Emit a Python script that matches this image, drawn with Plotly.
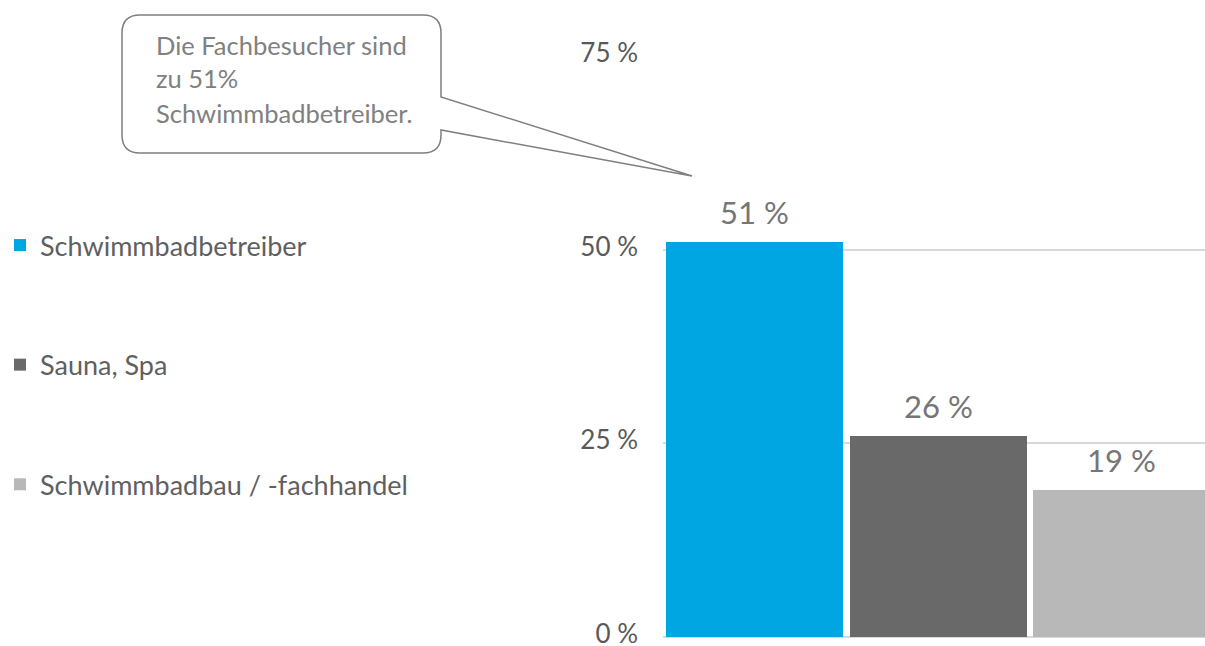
import plotly.graph_objects as go

categories = ["Schwimmbadbetreiber", "Sauna, Spa", "Schwimmbadbau / -fachhandel"]
values = [51, 26, 19]
colors = ["#00A6E2", "#696969", "#B8B8B8"]
tick_vals = [0, 25, 50, 75]
tick_text = ["0 %", "25 %", "50 %", "75 %"]
callout_lines = ["Die Fachbesucher sind", "zu 51%", "Schwimmbadbetreiber."]

W, H = 1205, 646
ML, MR, MT, MB = 663, 0, 56, 9
PW, PH = W - ML - MR, H - MT - MB


def px(x):
    return (x - ML) / PW


def py(y):
    return (H - MB - y) / PH


fig = go.Figure()
for i, (cat, val, col) in enumerate(zip(categories, values, colors)):
    fig.add_trace(go.Bar(
        x=[i], y=[val], name=cat, marker=dict(color=col, line=dict(width=0)),
        width=0.965, legendgroup=f"g{i}", hoverinfo="skip",
    ))
    fig.add_annotation(x=i, y=val, xref="x", yref="y", text=f"{val} %",
                       showarrow=False, yanchor="bottom", yshift=9,
                       font=dict(family="Lato", size=31, color="#767676"))

# Callout bubble
L, R, T, B, r = 122, 441, 15, 153, 18
y1, y2 = 97, 130
tx, ty = 692, 176
pts = [
    ("M", [(L + r, T)]), ("L", [(R - r, T)]), ("Q", [(R, T), (R, T + r)]),
    ("L", [(R, y1)]), ("L", [(tx, ty)]), ("L", [(R, y2)]), ("L", [(R, B - r)]),
    ("Q", [(R, B), (R - r, B)]), ("L", [(L + r, B)]), ("Q", [(L, B), (L, B - r)]),
    ("L", [(L, T + r)]), ("Q", [(L, T), (L + r, T)]),
]
path = " ".join(c + " " + " ".join(f"{px(a):.5f},{py(b):.5f}" for a, b in p) for c, p in pts) + " Z"
fig.add_shape(type="path", path=path, xref="paper", yref="paper",
              fillcolor="white", line=dict(color="#7F7F7F", width=1.5), layer="above")

for line, yc in zip(callout_lines, [45, 78, 113]):
    fig.add_annotation(text=line, xref="paper", yref="paper", x=px(154), y=py(yc),
                       xanchor="left", yanchor="middle", showarrow=False,
                       font=dict(family="Lato", size=25.5, color="#808080"))

fig.update_layout(
    width=W, height=H,
    margin=dict(l=ML, r=MR, t=MT, b=MB, autoexpand=False),
    paper_bgcolor="white", plot_bgcolor="white",
    barmode="overlay", bargap=0,
    showlegend=True,
    legend=dict(
        x=0, xref="container", xanchor="left", y=py(221), yanchor="top",
        font=dict(family="Lato", size=27, color="#5F5F5F"),
        traceorder="grouped", tracegroupgap=81.5, itemclick=False,
        bgcolor="rgba(0,0,0,0)",
    ),
    xaxis=dict(range=[-0.5, 2.454], showticklabels=False, showgrid=False,
               zeroline=False, fixedrange=True, automargin=False),
    yaxis=dict(range=[0, 75], tickvals=tick_vals, ticktext=tick_text,
               showgrid=True, gridcolor="#D9D9D9", gridwidth=2,
               zeroline=True, zerolinecolor="#D9D9D9", zerolinewidth=2,
               tickfont=dict(family="Lato", size=26, color="#595959"),
               ticklabelstandoff=24, ticklabelshift=-3, ticklabeloverflow="allow",
               automargin=False, fixedrange=True),
)

fig.write_html(
    "out.html", config={"displayModeBar": False},
    post_script=(
        "document.documentElement.style.overflow='hidden';"
        "document.body.style.margin='0';"
        "document.body.style.overflow='hidden';"
    ),
)
